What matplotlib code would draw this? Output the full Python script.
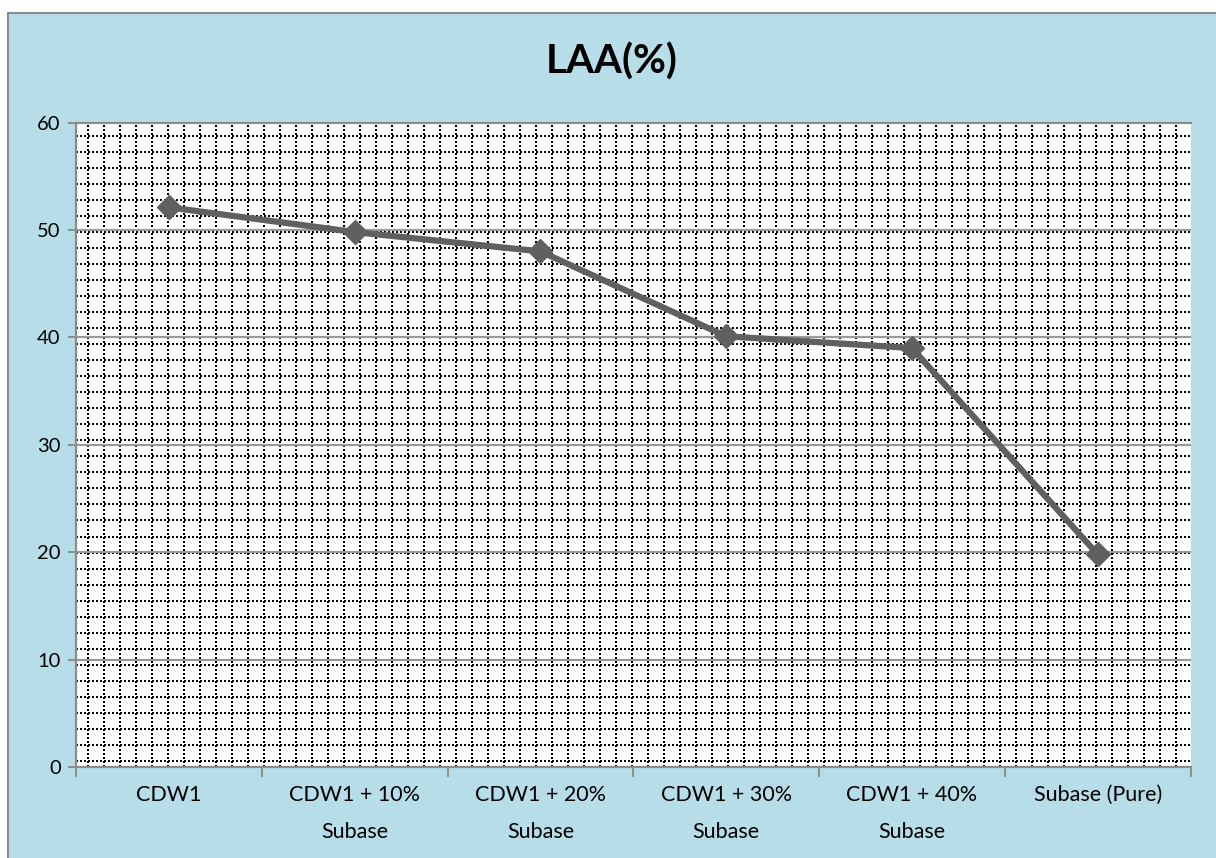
import matplotlib
matplotlib.use("Agg")
import matplotlib.pyplot as plt
from matplotlib.patches import Rectangle
import numpy as np

categories = ["CDW1", "CDW1 + 10%\nSubase", "CDW1 + 20%\nSubase",
              "CDW1 + 30%\nSubase", "CDW1 + 40%\nSubase", "Subase (Pure)"]
laa_values = [52.1, 49.8, 48.0, 40.1, 39.0, 19.8]
y_ticks = [0, 10, 20, 30, 40, 50, 60]
title = "LAA(%)"

W, H = 1216, 858
fig = plt.figure(figsize=(W / 100, H / 100), dpi=100)
fig.patch.set_facecolor("white")

BLUE = "#B7DEE8"
# chart-area box
fig.patches.append(Rectangle((8 / W, -0.05), 1.1, (858 - 13) / H + 0.05,
                             transform=fig.transFigure, facecolor=BLUE,
                             edgecolor="#8C8C8C", linewidth=1.5, zorder=-5))

L, R, T, B = 76, 1190.5, 122.5, 767
ax = fig.add_axes([L / W, (H - B) / H, (R - L) / W, (B - T) / H])
ax.set_zorder(2)
ax.set_facecolor("white")
ax.set_xlim(-0.5, len(categories) - 0.5)
ax.set_ylim(0, 60)

# dotted pattern fill of the plot area (fixed pixel period)
pw, ph = R - L, B - T
dot_kw = dict(transform=ax.transAxes, color="black", lw=1.44,
              dashes=(1.0, 1.0), zorder=1, solid_capstyle="butt",
              dash_capstyle="butt")
k = 0
while 12 + 16 * k < pw:
    xf = (12 + 16 * k) / pw
    ax.plot([xf, xf], [0, 1], **dot_kw)
    k += 1
k = 0
while 13.5 + 16.02 * k < ph:
    yf = 1 - (13.5 + 16.02 * k) / ph
    ax.plot([0, 1], [yf, yf], **dot_kw)
    k += 1

# major gridlines
for yv in y_ticks[1:-1]:
    ax.axhline(yv, color="#9A9A9A", lw=1.6, zorder=2)

x = np.arange(len(categories))
ax.plot(x, laa_values, color="#606060", lw=4.5, marker="D", markersize=12.5,
        markeredgecolor="#606060", markerfacecolor="#606060", zorder=5,
        clip_on=False)

ax.spines["right"].set_visible(False)
for s in ["left", "bottom", "top"]:
    ax.spines[s].set_color("#8C8C8C")
    ax.spines[s].set_linewidth(1.6)
    ax.spines[s].set_zorder(6)

font = "Lato"
ax.set_yticks(y_ticks)
ax.set_yticklabels([str(v) for v in y_ticks], fontsize=14.5, family=font)
ax.tick_params(axis="y", direction="out", length=6, width=1.4,
               color="#8C8C8C", pad=5)
ax.set_xticks(x)
ax.set_xticklabels(categories, fontsize=15.5, family=font, linespacing=2.05)
ax.tick_params(axis="x", which="major", length=0, pad=13)
ax.set_xticks(np.arange(-0.5, len(categories), 1), minor=True)
ax.tick_params(axis="x", which="minor", direction="out", length=7,
               width=1.4, color="#8C8C8C")

fig.text(612 / W, 1 - 62 / H, title, ha="center", va="center",
         fontsize=29, fontweight="bold", family=font)

fig.savefig("out.png", dpi=100, facecolor=fig.get_facecolor())
